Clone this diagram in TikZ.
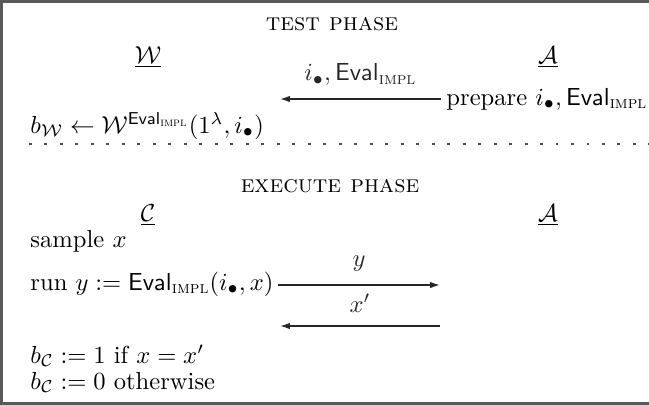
\documentclass[tikz,border=0pt]{standalone}
\usepackage{amsmath}
\usepackage{amssymb}
\usetikzlibrary{arrows.meta, positioning}
\newcommand{\evalimpl}{\mathsf{Eval}_{\text{\textsc{impl}}}}

\begin{document}
\begin{tikzpicture}[
  x=0.0143cm, y=-0.0143cm,
  frame/.style={draw=black!65, line width=0.9pt},
  phase/.style={anchor=base, font=\scshape},
  party/.style={anchor=base},
  stmt/.style={anchor=base west, inner sep=0pt},
  msg/.style={-{Latex[length=4pt, width=2.6pt]}, semithick, color=black!85},
  sep/.style={line width=1.2pt, dash pattern=on 1.2pt off 5.1pt, color=black!70}
]

% Frame (open on the right)
\useasboundingbox (0,0) rectangle (649,405);
\draw[frame] (649,1.5) -- (1.5,1.5) -- (1.5,403.5) -- (649,403.5);

% Test phase
\node[phase] (tphase) at (332,30) {test phase};
\node[party] (w) at (148,63) {$\underline{\mathcal{W}}$};
\node[party] (a1) at (548,63) {$\underline{\mathcal{A}}$};
\node[stmt] (prep) at (446,105) {prepare $i_\bullet, \evalimpl$};
\coordinate (wIn) at (280,99);
\node[stmt] (bw) at (30,133) {$b_{\mathcal{W}} \leftarrow \mathcal{W}^{\evalimpl}(1^\lambda, i_\bullet)$};

% Separator
\coordinate (sepL) at (29,144);
\coordinate (sepR) at (649,144);
\draw[sep] (sepL) -- (sepR);

% Execute phase
\node[phase] (ephase) at (330,192) {execute phase};
\node[party] (c) at (148,221) {$\underline{\mathcal{C}}$};
\node[party] (a2) at (548,221) {$\underline{\mathcal{A}}$};
\node[stmt] (sample) at (30,247) {sample $x$};
\node[stmt] (run) at (30,290) {run $y := \evalimpl(i_\bullet, x)$};
\coordinate (aIn) at (440,285);
\coordinate (aOut) at (440,326);
\coordinate (cIn) at (280,326);
\node[stmt] (bc1) at (30,363) {$b_{\mathcal{C}} := 1$ if $x = x'$};
\node[stmt] (bc0) at (30,389) {$b_{\mathcal{C}} := 0$ otherwise};

% Messages
\draw[msg] (prep.west |- wIn) ++(-5,0) -- node[above=2pt] {$i_\bullet, \evalimpl$} (wIn);
\draw[msg] (run.east |- aIn) ++(4,0) -- node[above=2pt] {$y$} (aIn);
\draw[msg] (aOut) -- node[above=2pt] {$x'$} (cIn);

\end{tikzpicture}
\end{document}
